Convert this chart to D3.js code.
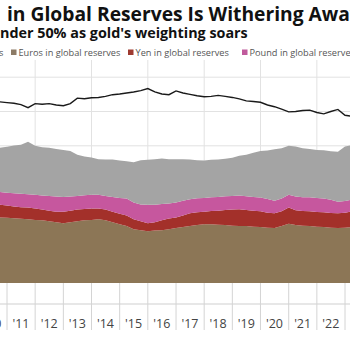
<!DOCTYPE html>
<html lang="en">
<head>
<meta charset="utf-8">
<title>Dollar share in global reserves</title>
<script src="https://cdn.jsdelivr.net/npm/d3@7"></script>
<style>
  body { margin: 0; background: #fff; }
  svg { display: block; }
</style>
</head>
<body>
<script>
// quarterly readings, share of total reserves in %
var quarters = ["2010-10","2011-01","2011-04","2011-07","2011-10","2012-01","2012-04","2012-07","2012-10",
  "2013-01","2013-04","2013-07","2013-10","2014-01","2014-04","2014-07","2014-10","2015-01","2015-04",
  "2015-07","2015-10","2016-01","2016-04","2016-07","2016-10","2017-01","2017-04","2017-07","2017-10",
  "2018-01","2018-04","2018-07","2018-10","2019-01","2019-04","2019-07","2019-10","2020-01","2020-04",
  "2020-07","2020-10","2021-01","2021-04","2021-07","2021-10","2022-01","2022-04","2022-07","2022-10",
  "2023-01","2023-04"];

var usdShare = [52.8,52.6,52.4,52.0,51.1,52.3,52.1,52.3,51.9,51.7,52.3,53.9,53.7,54.0,54.1,54.4,54.9,
  55.1,55.4,55.7,56.1,56.7,55.7,55.1,54.9,56.0,55.4,55.0,54.6,54.3,54.4,54.7,54.4,54.1,53.7,53.1,52.9,
  52.7,51.9,51.4,50.7,49.9,50.0,50.3,50.4,49.7,49.3,50.0,50.6,48.9,48.6];

var euros = [19.1,19.0,18.9,18.7,18.6,18.4,18.3,18.0,17.7,17.4,17.7,18.0,18.3,18.4,18.6,18.3,17.7,
  17.1,16.6,15.7,15.4,15.1,15.3,15.4,15.7,16.0,16.3,16.6,16.9,17.1,17.1,17.0,16.9,16.7,16.6,16.6,16.4,
  16.3,16.1,16.0,16.6,17.3,16.9,16.7,16.6,16.4,16.3,16.1,16.0,16.1,16.3];

var yen = [3.7,3.6,3.4,3.4,3.4,3.3,3.1,3.1,3.1,3.4,3.4,3.4,3.3,3.3,3.1,3.1,3.1,3.1,3.1,2.9,2.6,2.3,
  2.4,2.9,3.1,3.1,3.4,3.7,3.7,3.7,3.9,4.1,4.4,4.7,4.9,4.7,4.7,4.6,4.4,4.3,4.3,4.7,4.3,4.3,4.3,4.3,4.3,
  4.3,4.3,4.4,4.6];

var pound = [3.7,3.7,3.9,3.9,3.9,4.0,4.1,4.3,4.4,4.3,4.1,4.0,4.0,4.0,4.0,4.0,4.3,4.6,4.9,4.9,4.9,5.4,
  5.1,4.7,4.4,4.4,4.3,4.1,4.1,4.0,4.0,4.0,4.0,4.0,4.0,4.0,4.0,4.0,4.0,3.7,3.7,3.7,4.0,4.0,4.1,4.1,4.0,
  3.9,3.4,3.4,3.4];

var other = [12.9,13.4,13.9,14.3,15.3,14.3,14.1,14.0,13.9,13.7,13.3,12.0,11.3,10.9,10.4,10.6,10.9,
  10.9,10.9,11.7,12.9,13.1,13.3,13.3,12.9,12.6,12.1,11.6,11.1,10.9,10.9,10.9,10.9,11.1,11.6,12.1,12.9,
  13.6,14.1,15.0,14.7,14.3,14.6,14.3,14.1,14.0,14.1,14.1,14.6,15.9,15.9];

var yearTicks = [2010,2011,2012,2013,2014,2015,2016,2017,2018,2019,2020,2021,2022,2023,2024];
var gridYears = [2012,2014,2016,2018,2020,2022];
var gridValues = [10,20,30,40,50,60];

var seriesKeys = ["euros","yen","pound","other"];
var seriesColors = {euros: "#8c7656", yen: "#a3302a", pound: "#c6579e", other: "#a4a4a4"};

var legendItems = [
  {label: "Dollars in global reserves", color: "#a4a4a4"},
  {label: "Euros in global reserves", color: "#8c7b66"},
  {label: "Yen in global reserves", color: "#9e3a30"},
  {label: "Pound in global reserves", color: "#c05a9c"}
];

var width = 350, height = 350;
var plotTop = 60, baseY = 283, axisY = 304;

var svg = d3.select("body").append("svg")
  .attr("width", width)
  .attr("height", height)
  .style("font-family", "'Open Sans', sans-serif");

var parse = d3.timeParse("%Y-%m");
var rows = quarters.map(function(q, i) {
  return {date: parse(q), usd: usdShare[i], euros: euros[i], yen: yen[i], pound: pound[i], other: other[i]};
});

var x = d3.scaleTime()
  .domain([new Date(2011, 0, 1), new Date(2023, 0, 1)])
  .range([7, 345]);

var y = d3.scaleLinear()
  .domain([0, 60])
  .range([baseY, baseY - 60 * 3.43]);

// grid
svg.append("g").selectAll("line")
  .data(gridValues)
  .enter().append("line")
  .attr("x1", 0).attr("x2", width)
  .attr("y1", function(d) { return y(d); })
  .attr("y2", function(d) { return y(d); })
  .attr("stroke", "#e2e2e2");

svg.append("g").selectAll("line")
  .data(gridYears)
  .enter().append("line")
  .attr("x1", function(d) { return x(new Date(d, 0, 1)); })
  .attr("x2", function(d) { return x(new Date(d, 0, 1)); })
  .attr("y1", plotTop).attr("y2", baseY)
  .attr("stroke", "#e2e2e2");

// stacked areas
var stack = d3.stack().keys(seriesKeys);
var layers = stack(rows);

var area = d3.area()
  .x(function(d) { return x(d.data.date); })
  .y0(function(d) { return y(d[0]); })
  .y1(function(d) { return y(d[1]); });

svg.append("g").selectAll("path")
  .data(layers)
  .enter().append("path")
  .attr("d", area)
  .attr("fill", function(d) { return seriesColors[d.key]; });

// dollar share line
var line = d3.line()
  .x(function(d) { return x(d.date); })
  .y(function(d) { return y(d.usd); });

svg.append("path")
  .datum(rows)
  .attr("d", line)
  .attr("fill", "none")
  .attr("stroke", "#1a1a1a")
  .attr("stroke-width", 1.4);

// x axis: long ticks at year boundaries, labels in between
svg.append("line")
  .attr("x1", 0).attr("x2", width)
  .attr("y1", axisY).attr("y2", axisY)
  .attr("stroke", "#cfcfcf");

svg.append("g").selectAll("line")
  .data(yearTicks)
  .enter().append("line")
  .attr("x1", function(d) { return x(new Date(d, 0, 1)); })
  .attr("x2", function(d) { return x(new Date(d, 0, 1)); })
  .attr("y1", baseY).attr("y2", 330)
  .attr("stroke", "#d4d4d4");

svg.append("g").selectAll("text")
  .data(yearTicks.slice(0, -1))
  .enter().append("text")
  .attr("x", function(d) { return x(new Date(d, 6, 1)); })
  .attr("y", 327.5)
  .attr("text-anchor", "middle")
  .attr("font-size", 12.5)
  .attr("fill", "#444")
  .text(function(d) { return "'" + String(d).slice(2); });

// fit a text so that chars [from, to) span the wanted pixel width
function fitText(t, from, to, wanted) {
  var node = t.node();
  var fs = +t.attr("font-size");
  var w = node.getSubStringLength(from, to - from);
  t.attr("font-size", fs * wanted / w);
  return fs * wanted / w;
}

var title = svg.append("text")
  .attr("x", 7).attr("y", 21)
  .attr("font-size", 17)
  .attr("font-weight", "bold")
  .attr("fill", "#111")
  .text("in Global Reserves Is Withering Away");
fitText(title, 0, 35, 343);

var sub = svg.append("text")
  .attr("y", 37.5)
  .attr("font-size", 13)
  .attr("font-weight", "bold")
  .attr("fill", "#111")
  .text("under 50% as gold's weighting soars");
fitText(sub, 1, 35, 248);
sub.attr("x", -sub.node().getSubStringLength(0, 1));

// legend
var legX = [3.5, 11, 128, 242];
var legend = svg.append("g");
var legTexts = [];
legendItems.forEach(function(d, i) {
  if (i > 0) {
    legend.append("rect")
      .attr("x", legX[i]).attr("y", 49.5)
      .attr("width", 5.5).attr("height", 5.5)
      .attr("fill", d.color);
  }
  legTexts.push(legend.append("text")
    .attr("x", i === 0 ? legX[i] : legX[i] + 7.5)
    .attr("y", 56)
    .attr("text-anchor", i === 0 ? "end" : "start")
    .attr("font-size", 9.5)
    .attr("fill", "#555")
    .text(d.label));
});
var legSize = fitText(legTexts[1], 0, 24, 102);
legTexts.forEach(function(t) { t.attr("font-size", legSize); });
</script>
</body>
</html>
